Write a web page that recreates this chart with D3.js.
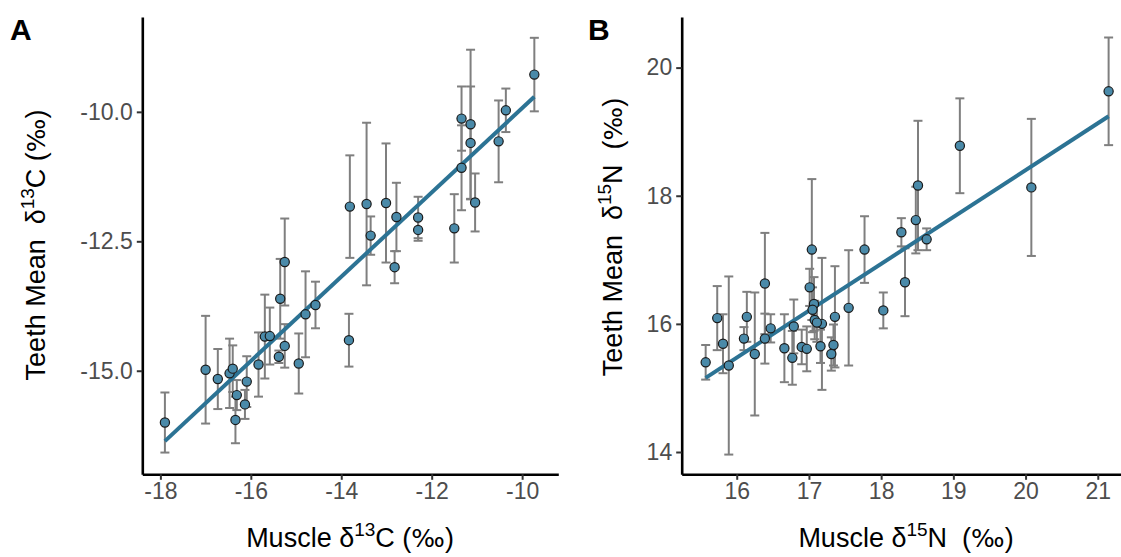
<!DOCTYPE html>
<html>
<head>
<meta charset="utf-8">
<script src="https://cdn.jsdelivr.net/npm/d3@7"></script>
<style>
  body { margin: 0; background: #fff; }
  text { font-family: "Liberation Sans", Arial, sans-serif; }
</style>
</head>
<body>
<script>
// Panel A: carbon, muscle vs teeth mean (+/- sd)
var muscleC = [-9.73, -10.36, -10.52, -11.34, -11.34, -11.14, -11.14, -11.04, -11.50, -12.30,
  -12.30, -12.78, -13.01, -13.44, -13.35, -13.81, -15.25, -15.35, -17.90, -17.00,
  -16.73, -16.47, -16.40, -16.34, -16.31, -16.13, -16.09, -15.83, -15.69, -15.58,
  -15.38, -15.25, -14.94, -14.79, -14.57, -13.83, -12.82];
var teethC = [-9.28, -9.97, -10.57, -10.13, -11.08, -10.24, -10.60, -11.75, -12.25, -12.04,
  -12.28, -12.03, -11.76, -11.78, -12.39, -11.83, -12.90, -13.61, -16.00, -14.98,
  -15.16, -15.05, -14.96, -15.95, -15.47, -15.65, -15.21, -14.88, -14.34, -14.33,
  -14.73, -14.52, -14.86, -13.91, -13.73, -14.41, -13.00];
var teethCsd = [0.71, 0.42, 0.79, 0.62, 0.82, 1.44, 1.09, 0.56, 0.66, 0.40,
  0.21, 0.66, 1.15, 1.57, 0.37, 0.99, 0.84, 0.77, 0.58, 1.04,
  0.58, 0.67, 0.45, 0.45, 0.29, 0.28, 0.49, 0.62, 0.81, 0.55,
  0.12, 0.42, 0.58, 0.83, 0.45, 0.51, 0.31];

// Panel B: nitrogen
var muscleN = [21.15, 19.09, 20.08, 18.51, 18.48, 18.28, 18.63, 17.77, 17.04, 16.39,
  17.18, 17.55, 18.33, 15.57, 15.73, 15.81, 15.89, 16.10, 16.14, 16.25,
  16.39, 16.47, 16.66, 16.79, 16.77, 16.90, 16.97, 17.01, 17.07, 17.05,
  17.08, 17.11, 17.16, 17.34, 17.31, 17.36, 18.03];
var teethN = [19.63, 18.78, 18.13, 18.16, 17.62, 17.43, 17.32, 17.16, 17.16, 16.63,
  16.00, 16.25, 16.65, 15.40, 16.09, 15.69, 15.35, 15.77, 16.11, 15.53,
  15.77, 15.93, 15.62, 15.96, 15.47, 15.64, 15.61, 16.57, 16.31, 16.22,
  16.06, 16.02, 15.65, 15.67, 15.53, 16.11, 16.21];
var teethNsd = [0.84, 0.74, 1.07, 1.01, 0.52, 0.22, 0.17, 0.52, 1.10, 0.79,
  1.03, 0.90, 0.53, 0.27, 0.50, 0.46, 1.39, 0.18, 0.39, 0.96,
  0.39, 0.22, 0.53, 0.42, 0.42, 0.27, 0.35, 0.29, 0.42, 0.35,
  0.30, 0.30, 0.26, 0.32, 0.26, 0.79, 0.28];

// tick values
var ticksCx = [-18, -16, -14, -12, -10];
var ticksCy = [-15, -12.5, -10];
var ticksNx = [16, 17, 18, 19, 20, 21];
var ticksNy = [14, 16, 18, 20];

var pointFill = "#4a8aa9",
  lineColor = "#2c7394",
  barColor = "#7f7f7f";

var svg = d3.select("body").append("svg")
    .attr("width", 1121)
    .attr("height", 557);

// ordinary least squares, same as geom_smooth(method = "lm")
function fitLine(xs, ys) {
  var mx = d3.mean(xs), my = d3.mean(ys);
  var sxy = d3.sum(xs, function(d, i) { return (d - mx) * (ys[i] - my); });
  var sxx = d3.sum(xs, function(d) { return (d - mx) * (d - mx); });
  var b = sxy / sxx;
  return { a: my - b * mx, b: b };
}

// "δ^13C (‰)" style title pieces
function isoTitle(sel, lead, p) {
  sel.append("tspan").text(lead + "\u03b4");
  sel.append("tspan").attr("dy", -11).style("font-size", "19px").text(p.iso);
  sel.append("tspan").attr("dy", 11).text(p.elem + p.unitGap + "(");
  sel.append("tspan").style("font-family", "DejaVu Sans").style("font-size", "25px").text("\u2030");
  sel.append("tspan").text(")");
}

function drawPanel(p) {
  var x = d3.scaleLinear().domain(p.xDomain).range([p.left, p.right]);
  var y = d3.scaleLinear().domain(p.yDomain).range([p.bottom, p.top]);

  var data = p.xs.map(function(d, i) { return { x: d, y: p.ys[i], sd: p.sd[i] }; });
  var g = svg.append("g");

  // error bars
  var bars = g.selectAll(".bar").data(data).enter().append("g")
      .attr("class", "bar")
      .attr("stroke", barColor)
      .attr("stroke-width", 2);
  bars.append("line")
      .attr("x1", function(d) { return x(d.x); })
      .attr("x2", function(d) { return x(d.x); })
      .attr("y1", function(d) { return y(d.y - d.sd); })
      .attr("y2", function(d) { return y(d.y + d.sd); });
  [1, -1].forEach(function(s) {
    bars.append("line")
        .attr("x1", function(d) { return x(d.x) - 4.5; })
        .attr("x2", function(d) { return x(d.x) + 4.5; })
        .attr("y1", function(d) { return y(d.y + s * d.sd); })
        .attr("y2", function(d) { return y(d.y + s * d.sd); });
  });

  // regression line
  var fit = fitLine(p.xs, p.ys);
  var ext = d3.extent(p.xs);
  g.append("line")
      .attr("x1", x(ext[0])).attr("y1", y(fit.a + fit.b * ext[0]))
      .attr("x2", x(ext[1])).attr("y2", y(fit.a + fit.b * ext[1]))
      .attr("stroke", lineColor)
      .attr("stroke-width", 4);

  // points
  g.selectAll("circle").data(data).enter().append("circle")
      .attr("cx", function(d) { return x(d.x); })
      .attr("cy", function(d) { return y(d.y); })
      .attr("r", 4.6)
      .attr("fill", pointFill)
      .attr("stroke", "#1a1a1a")
      .attr("stroke-width", 1.2);

  // axes
  var xAxis = d3.axisBottom(x).tickValues(p.xTicks).tickSizeInner(5.5).tickSizeOuter(0)
      .tickPadding(3).tickFormat(function(d) { return String(d); });
  var yAxis = d3.axisLeft(y).tickValues(p.yTicks).tickSizeInner(5.5).tickSizeOuter(0)
      .tickPadding(4).tickFormat(p.yFormat);

  var gx = g.append("g").attr("transform", "translate(0," + p.bottom + ")").call(xAxis);
  var gy = g.append("g").attr("transform", "translate(" + p.left + ",0)").call(yAxis);
  [gx, gy].forEach(function(ax) {
    ax.attr("font-family", null).attr("font-size", null);
    ax.select(".domain").attr("stroke", "#000").attr("stroke-width", 2.6);
    ax.selectAll(".tick line").attr("stroke", "#333").attr("stroke-width", 2);
    ax.selectAll(".tick text").attr("fill", "#4d4d4d").style("font-size", "23px");
  });

  // x title with superscript
  var xt = g.append("text")
      .attr("x", p.xTitleX)
      .attr("y", 547)
      .attr("text-anchor", "middle")
      .style("font-size", "27px")
      .style("white-space", "pre");
  isoTitle(xt, "Muscle ", p);

  // y title with superscript
  var yt = g.append("text")
      .attr("transform", "translate(" + p.yTitleX + "," + p.yTitleY + ") rotate(-90)")
      .attr("text-anchor", "middle")
      .style("font-size", "27px")
      .style("white-space", "pre");
  isoTitle(yt, "Teeth Mean  ", p);

  // panel tag
  g.append("text")
      .attr("x", p.tagX)
      .attr("y", 40)
      .style("font-size", "30px")
      .style("font-weight", "bold")
      .text(p.tag);
}

drawPanel({
  tag: "A", tagX: 10,
  xs: muscleC, ys: teethC, sd: teethCsd,
  xDomain: [-18.40, -9.20], yDomain: [-17.0, -8.168],
  left: 142.3, right: 558.3, top: 17, bottom: 474.3,
  xTicks: ticksCx, yTicks: ticksCy,
  yFormat: function(d) { return d.toFixed(1); },
  iso: "13", elem: "C", unitGap: " ",
  xTitleX: 350, yTitleX: 45, yTitleY: 245
});

drawPanel({
  tag: "B", tagX: 588,
  xs: muscleN, ys: teethN, sd: teethNsd,
  xDomain: [15.238, 21.46], yDomain: [13.652, 20.79],
  left: 681.7, right: 1131, top: 17, bottom: 474.3,
  xTicks: ticksNx, yTicks: ticksNy,
  yFormat: function(d) { return String(d); },
  iso: "15", elem: "N", unitGap: "  ",
  xTitleX: 906, yTitleX: 622, yTitleY: 237
});
</script>
</body>
</html>
